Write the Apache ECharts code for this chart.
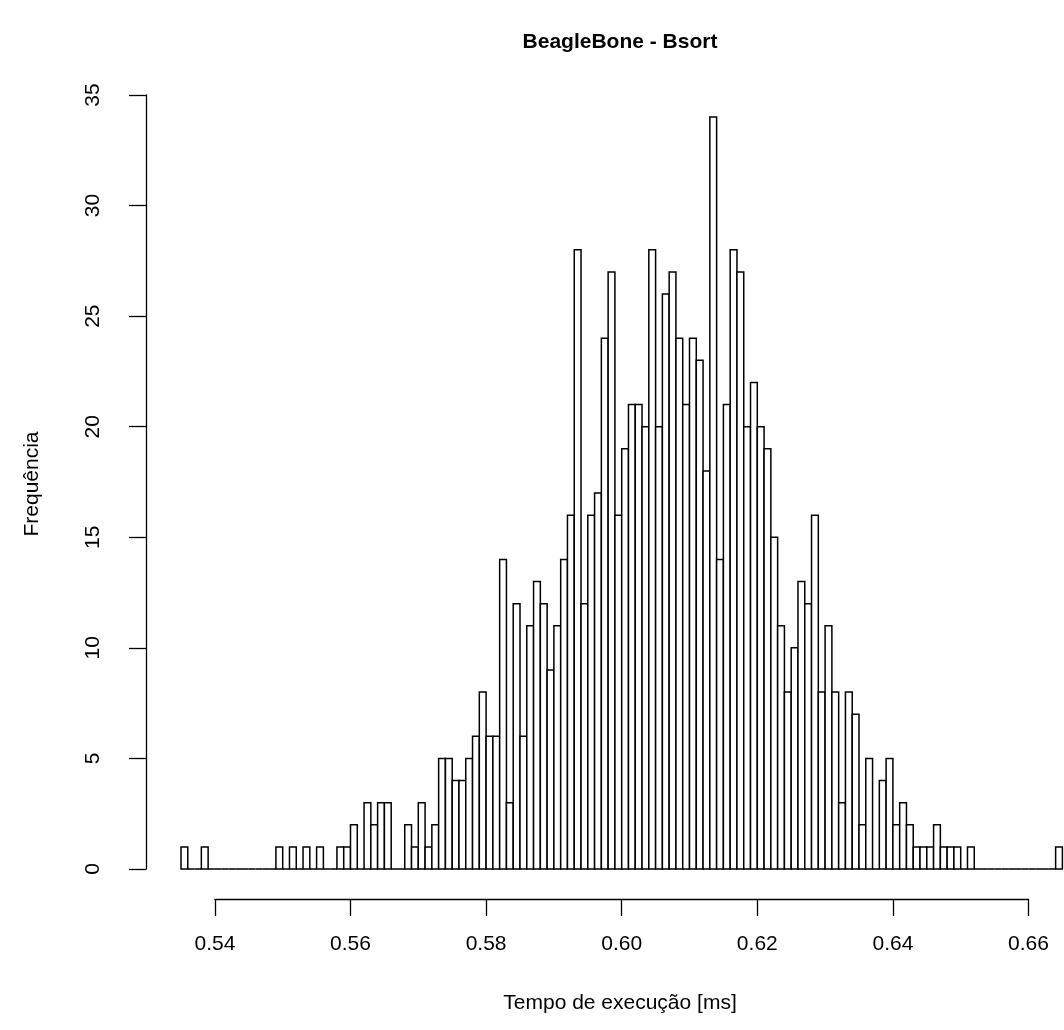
<!DOCTYPE html>
<html><head><meta charset="utf-8">
<script src="https://cdn.jsdelivr.net/npm/echarts@6/dist/echarts.min.js"></script>
<style>html,body{margin:0;padding:0;background:#fff}#c{width:1064px;height:1030px}</style>
</head><body><div id="c"></div>
<script>
const chartTitle = 'BeagleBone - Bsort';
const xLabel = 'Tempo de execução [ms]';
const yLabel = 'Frequência';
// histogram breaks: 0.535 .. 0.665 step 0.001
const binStart = 0.535;
const binWidth = 0.001;
const counts = [
  1,0,0,1,0,0,0,0,0,0,
  0,0,0,0,1,0,1,0,1,0,
  1,0,0,1,1,2,0,3,2,3,
  3,0,0,2,1,3,1,2,5,5,
  4,4,5,6,8,6,6,14,3,12,
  6,11,13,12,9,11,14,16,28,12,
  16,17,24,27,16,19,21,21,20,28,
  20,26,27,24,21,24,23,18,34,14,
  21,28,27,20,22,20,19,15,11,8,
  10,13,12,16,8,11,8,3,8,7,
  2,5,0,4,5,2,3,2,1,1,
  1,2,1,1,1,0,1,0,0,0,
  0,0,0,0,0,0,0,0,0,1
];
const xTickMin = 0.54, xTickMax = 0.66, xTickStep = 0.02;
const yTickMin = 0, yTickMax = 35, yTickStep = 5;

const bins = counts.map((c, i) => [
  +(binStart + i * binWidth).toFixed(3),
  +(binStart + (i + 1) * binWidth).toFixed(3),
  c
]);

const FONT = '"Liberation Sans", Arial, sans-serif';
const chart = echarts.init(document.getElementById('c'), null, {renderer: 'canvas'});
chart.setOption({
  backgroundColor: '#fff',
  animation: false,
  grid: [
    {left: 181, width: 881.4, top: 95, height: 774},
    {left: 214.9, width: 813.6, top: 880, height: 19}
  ],
  xAxis: [
    {gridIndex: 0, type: 'value', min: binStart, max: +(binStart + counts.length * binWidth).toFixed(3), show: false},
    {gridIndex: 1, type: 'value', min: xTickMin, max: xTickMax, interval: xTickStep,
     axisLine: {show: true, lineStyle: {color: '#000', width: 1.3}},
     axisTick: {show: true, length: 17, inside: false, lineStyle: {color: '#000', width: 1.3}},
     axisLabel: {show: true, margin: 35, fontSize: 21, color: '#000', fontFamily: FONT,
                 formatter: v => v.toFixed(2)},
     splitLine: {show: false}}
  ],
  yAxis: [
    {gridIndex: 0, type: 'value', min: yTickMin, max: yTickMax, interval: yTickStep, offset: 35,
     axisLine: {show: true, lineStyle: {color: '#000', width: 1.3}},
     axisTick: {show: true, length: 17, inside: false, lineStyle: {color: '#000', width: 1.3}},
     axisLabel: {show: true, rotate: 90, margin: 42, fontSize: 21, color: '#000', fontFamily: FONT},
     splitLine: {show: false}},
    {gridIndex: 1, type: 'value', min: 0, max: 1, show: false}
  ],
  series: [{
    type: 'custom',
    xAxisIndex: 0, yAxisIndex: 0,
    clip: false,
    data: bins,
    encode: {x: [0, 1], y: 2},
    renderItem: function (params, api) {
      const p0 = api.coord([api.value(0), api.value(2)]);
      const p1 = api.coord([api.value(1), 0]);
      return {
        type: 'rect',
        shape: {x: p0[0], y: p0[1], width: p1[0] - p0[0], height: p1[1] - p0[1]},
        style: {fill: '#fff', stroke: '#000', lineWidth: 1.5}
      };
    }
  }],
  graphic: [
    {type: 'text', x: 620, y: 42, style: {text: chartTitle, font: 'bold 21px ' + FONT, fill: '#000', textAlign: 'center', textVerticalAlign: 'middle'}},
    {type: 'text', x: 620, y: 1003, style: {text: xLabel, font: '21px ' + FONT, fill: '#000', textAlign: 'center', textVerticalAlign: 'middle'}},
    {type: 'text', x: 32, y: 484, rotation: Math.PI / 2, style: {text: yLabel, font: '21px ' + FONT, fill: '#000', textAlign: 'center', textVerticalAlign: 'middle'}}
  ]
});
</script></body></html>
